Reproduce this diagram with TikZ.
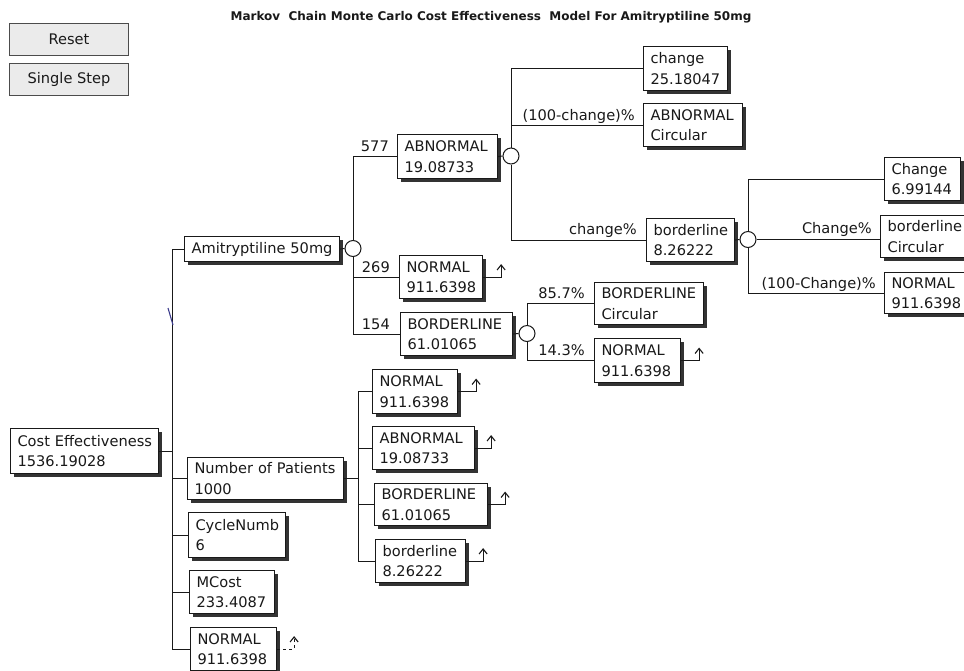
\documentclass[tikz,border=0pt]{standalone}
\usepackage{fontspec}
\setmainfont{DejaVu Sans}
\usetikzlibrary{shadows,arrows.meta}
\definecolor{ink}{gray}{0.1}
\definecolor{pen}{RGB}{60,60,140}
\tikzset{
 box/.style={draw=ink, line width=1.1pt, fill=white, anchor=north west, align=left,
   inner xsep=7pt, inner ysep=2pt, text=ink, font=\fontsize{14.6}{20.5}\selectfont,
   execute at begin node={\hyphenpenalty=10000\exhyphenpenalty=10000},
   drop shadow={shadow xshift=3pt, shadow yshift=-3pt, fill=black!80, opacity=1}},
 circ/.style={circle, draw=ink, line width=1pt, fill=white, minimum size=16pt, inner sep=0pt},
 ln/.style={line width=1pt, draw=ink},
 stub/.style={ln, -{Straight Barb[length=5pt,width=8pt,line width=1.1pt]}},
 lbl/.style={font=\fontsize{14.6}{16}\selectfont, anchor=base east, inner sep=0pt, text=ink},
 btn/.style={draw=black!70, line width=1pt, fill=black!8, minimum width=119pt,
   minimum height=32pt, anchor=north west, text=ink, font=\fontsize{14.6}{16}\selectfont},
}
\newcommand\bx[6]{%
 \pgfmathsetmacro\bxw{#4-#2-14}\pgfmathsetmacro\bxh{#5-#3}%
 \node[box, text width=\bxw pt, minimum height=\bxh pt] (#1) at (#2,-#3) {#6};}
\begin{document}
\begin{tikzpicture}[x=1pt,y=1pt]
\useasboundingbox (0,0) rectangle (964,-670);
\clip (0,0) rectangle (964,-670);
% title and buttons
\node[font=\bfseries\fontsize{12}{14}\selectfont, text=ink] (title) at (491,-17)
  {Markov\ \ Chain Monte Carlo Cost Effectiveness\ \ Model For Amitryptiline 50mg};
\node[btn] (reset) at (9,-23) {Reset};
\node[btn] (sstep) at (9,-63) {Single Step};
% boxes
\bx{ce}{10}{428}{158}{473}{\mbox{Cost Effectiveness}\\1536.19028}
\bx{ami}{184}{236}{339}{261}{\mbox{Amitryptiline 50mg}}
\bx{np}{187}{457}{343}{499}{\mbox{Number of Patients}\\1000}
\bx{cyc}{188}{512}{285}{557}{CycleNumb\\6}
\bx{mc}{189}{570}{274}{613}{MCost\\233.4087}
\bx{nfin}{190}{627}{276}{670}{NORMAL\\911.6398}
\bx{na}{372}{369}{457}{413}{NORMAL\\911.6398}
\bx{aa}{372}{426}{474}{469}{ABNORMAL\\19.08733}
\bx{ba}{374}{483}{487}{525}{BORDERLINE\\61.01065}
\bx{la}{375}{539}{465}{582}{borderline\\8.26222}
\bx{ab}{397}{134}{497}{178}{ABNORMAL\\19.08733}
\bx{nor}{399}{255}{482}{298}{NORMAL\\911.6398}
\bx{bor}{400}{312}{512}{355}{BORDERLINE\\61.01065}
\bx{bc}{594}{282}{703}{324}{BORDERLINE\\Circular}
\bx{nb}{594}{338}{680}{382}{NORMAL\\911.6398}
\bx{chg}{643}{46}{727}{90}{change\\25.18047}
\bx{ac}{643}{103}{742}{146}{ABNORMAL\\Circular}
\bx{bl}{646}{218}{734}{261}{borderline\\8.26222}
\bx{chgb}{884}{157}{960}{200}{Change\\6.99144}
\bx{blc}{880}{215}{975}{257}{borderline\\Circular}
\bx{nc}{884}{272}{975}{313}{NORMAL\\911.6398}
% chance nodes
\node[circ] (c1) at (353,-248.5) {};
\node[circ] (c2) at (511,-156) {};
\node[circ] (c3) at (748,-239.5) {};
\node[circ] (c4) at (527,-333.5) {};
% trunk
\coordinate (tr) at (172,0);
\coordinate (v2) at (358,0);
\draw[ln] (ami.west) -| (tr |- nfin.west) -- (nfin.west);
\draw[ln] (ce.east) -- (tr |- ce.east);
\draw[ln] (np.west) -- (tr |- np.west);
\draw[ln] (cyc.west) -- (tr |- cyc.west);
\draw[ln] (mc.west) -- (tr |- mc.west);
\draw[pen, line width=1.1pt] (168,-308) -- (173,-325);
% number of patients
\draw[ln] (np.east) -- (v2 |- np.east);
\draw[ln] (na.west) -| (v2 |- la.west) -- (la.west);
\draw[ln] (aa.west) -- (v2 |- aa.west);
\draw[ln] (ba.west) -- (v2 |- ba.west);
% tree
\draw[ln] (ami.east) -- (c1.west);
\draw[ln] (c1.north) |- (ab.west);
\draw[ln] (c1.south) |- (bor.west);
\draw[ln] (c1.south |- nor.west) -- (nor.west);
\draw[ln] (ab.east) -- (c2.west);
\draw[ln] (c2.north) |- (chg.west);
\draw[ln] (c2.north |- ac.west) -- (ac.west);
\draw[ln] (c2.south) |- (bl.west);
\draw[ln] (bl.east) -- (c3.west);
\draw[ln] (c3.north) |- (chgb.west);
\coordinate (blcin) at (c3.east -| blc.west);
\draw[ln] (c3.east) -- (blcin);
\draw[ln] (c3.south) |- (nc.west);
\draw[ln] (bor.east) -- (c4.west);
\draw[ln] (c4.north) |- (bc.west);
\draw[ln] (c4.south) |- (nb.west);
% labels
\node[lbl, xshift=-8pt, yshift=5pt] (l577) at (ab.west) {577};
\node[lbl, xshift=-9pt, yshift=5pt] (l269) at (nor.west) {269};
\node[lbl, xshift=-10pt, yshift=5pt] (l154) at (bor.west) {154};
\node[lbl, xshift=-8pt, yshift=5pt] (lac) at (ac.west) {(100-change)\%};
\node[lbl, xshift=-9pt, yshift=6pt] (lbl1) at (bl.west) {change\%};
\node[lbl, xshift=-9pt, yshift=5pt] (lbc) at (bc.west) {85.7\%};
\node[lbl, xshift=-9pt, yshift=5pt] (lnb) at (nb.west) {14.3\%};
\node[lbl, xshift=-8pt, yshift=6pt] (lblc) at (blcin) {Change\%};
\node[lbl, xshift=-8pt, yshift=5pt] (lnc) at (nc.west) {(100-Change)\%};
% return stubs
\draw[stub] (na.east) -- ++(18,0) -- ++(0,13);
\draw[stub] (aa.east) -- ++(16,0) -- ++(0,13);
\draw[stub] (ba.east) -- ++(17,0) -- ++(0,13);
\draw[stub] (la.east) -- ++(17,0) -- ++(0,13);
\draw[stub] (nor.east) -- ++(18,0) -- ++(0,13);
\draw[stub] (nb.east) -- ++(18,0) -- ++(0,13);
\draw[stub, dashed] (nfin.east) -- ++(17,0) -- ++(0,13);
\end{tikzpicture}
\end{document}
